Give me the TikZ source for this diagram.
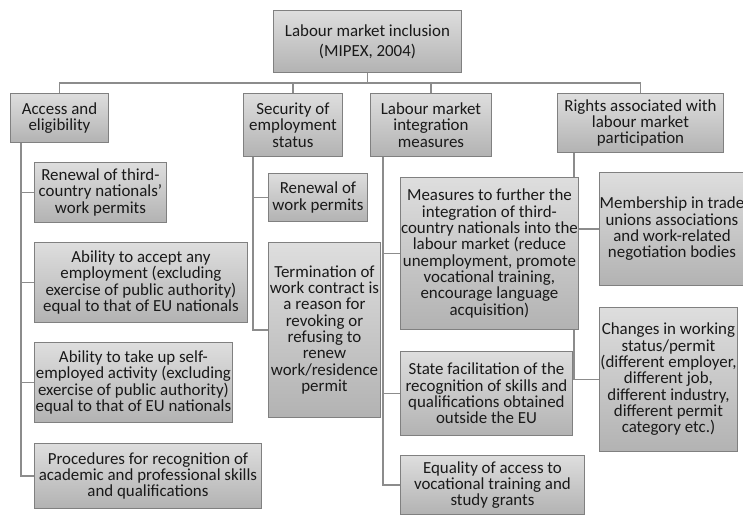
\documentclass[tikz,border=0pt]{standalone}
\usepackage{fontspec}
\setmainfont{Carlito}
\usetikzlibrary{backgrounds}

\begin{document}
\begin{tikzpicture}[
    x=1pt, y=-1pt,
    box/.style={rectangle, draw=black!50, line width=0.9pt, top color=black!13, bottom color=black!30, anchor=north west, align=center, inner sep=0pt, text=black!90, font=\fontsize{16.9}{16.3}\selectfont},
    head/.style={box, font=\fontsize{16.9}{20}\selectfont},
    link/.style={draw=black!45, line width=1.5pt}
]
    \useasboundingbox (0,0) rectangle (743,515);

    % Top level
    \node [head, minimum width=188pt, minimum height=62pt] (root) at (273,10) {Labour market inclusion\\(MIPEX, 2004)};

    % Categories
    \node [box, minimum width=98pt, minimum height=49pt] (acc) at (10,93) {Access and\\eligibility};
    \node [box, minimum width=99pt, minimum height=63pt] (sec) at (243,93) {Security of\\employment\\status};
    \node [box, minimum width=121pt, minimum height=63pt] (lmi) at (370,93) {Labour market\\integration\\measures};
    \node [box, minimum width=166pt, minimum height=59pt] (rig) at (557,93) {Rights associated with\\labour market\\participation};

    % Access and eligibility
    \node [box, minimum width=132pt, minimum height=60pt] (renew) at (34,162) {Renewal of third-\\country nationals’\\work permits};
    \node [box, minimum width=213pt, minimum height=80pt] (accept) at (34,242) {Ability to accept any\\employment (excluding\\exercise of public authority)\\equal to that of EU nationals};
    \node [box, minimum width=198pt, minimum height=80pt] (self) at (34,342) {Ability to take up self-\\employed activity (excluding\\exercise of public authority)\\equal to that of EU nationals};
    \node [box, minimum width=227pt, minimum height=65pt] (proc) at (34,443) {Procedures for recognition of\\academic and professional skills\\and qualifications};

    % Security of employment status
    \node [box, minimum width=99pt, minimum height=48pt] (wperm) at (268,173) {Renewal of\\work permits};
    \node [box, minimum width=112pt, minimum height=175pt] (term) at (268,242) {Termination of\\work contract is\\a reason for\\revoking or\\refusing to\\renew\\work/residence\\permit};

    % Integration measures
    \node [box, minimum width=178pt, minimum height=152pt] (further) at (400,177) {Measures to further the\\integration of third-\\country nationals into the\\labour market (reduce\\unemployment, promote\\vocational training,\\encourage language\\acquisition)};
    \node [box, minimum width=172pt, minimum height=84pt] (skills) at (400,351) {State facilitation of the\\recognition of skills and\\qualifications obtained\\outside the EU};
    \node [box, minimum width=184pt, minimum height=59pt] (equal) at (400,455) {Equality of access to\\vocational training and\\study grants};

    % Rights
    \node [box, minimum width=145pt, minimum height=113pt] (union) at (599,172) {Membership in trade\\unions associations\\and work-related\\negotiation bodies};
    \node [box, minimum width=138pt, minimum height=144pt] (change) at (599,307) {Changes in working\\status/permit\\(different employer,\\different job,\\different industry,\\different permit\\category etc.)};

    % Connectors
    \begin{scope}[on background layer]
        \draw [link] (root.south) -- ++(0,10) coordinate (bus);
        \draw [link] (acc.north) |- (bus) -| (rig.north);
        \draw [link] (sec.north) |- (bus);
        \draw [link] (lmi.north) |- (bus);

        \draw [link] ([xshift=11pt]acc.south west) |- (renew.west);
        \draw [link] ([xshift=11pt]acc.south west) |- (accept.west);
        \draw [link] ([xshift=11pt]acc.south west) |- (self.west);
        \draw [link] ([xshift=11pt]acc.south west) |- (proc.west);

        \draw [link] ([xshift=10pt]sec.south west) |- (wperm.west);
        \draw [link] ([xshift=10pt]sec.south west) |- (term.west);

        \draw [link] ([xshift=13pt]lmi.south west) |- (further.west);
        \draw [link] ([xshift=13pt]lmi.south west) |- (skills.west);
        \draw [link] ([xshift=13pt]lmi.south west) |- (equal.west);

        \draw [link] ([xshift=17pt]rig.south west) |- (union.west);
        \draw [link] ([xshift=17pt]rig.south west) |- (change.west);
    \end{scope}
\end{tikzpicture}
\end{document}
